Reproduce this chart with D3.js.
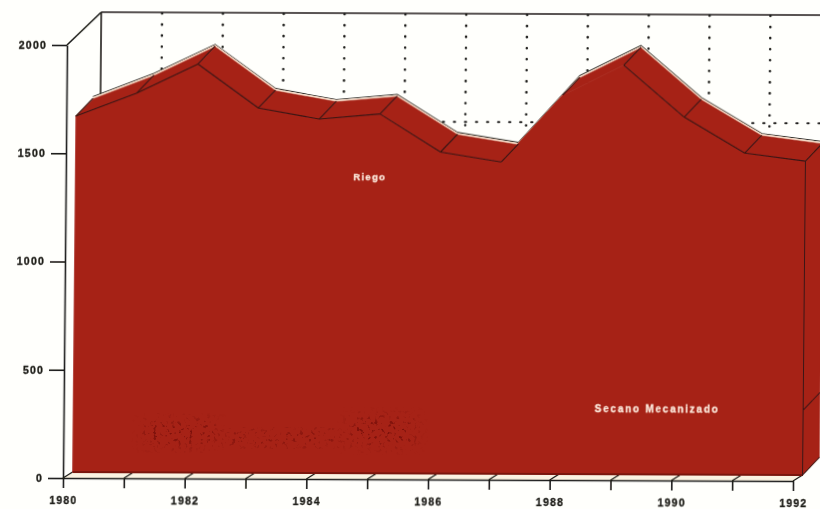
<!DOCTYPE html>
<html><head><meta charset="utf-8">
<script src="https://cdn.jsdelivr.net/npm/d3@7/dist/d3.min.js"></script>
<style>
html,body{margin:0;padding:0;background:#fffffc;overflow:hidden}
text{font-family:"Liberation Sans",Arial,sans-serif;font-weight:bold}
</style></head><body><svg id="c" width="820" height="509"></svg>
<script>
const years=[1980,1981,1982,1983,1984,1985,1986,1987,1988,1989,1990,1991,1992];
const riegoTotal=[1644,1752,1887,1685,1635,1660,1485,1440,1750,1890,1651,1486,1450];
const secanoLast=300;
const yTicks=[0,500,1000,1500,2000];
const xLabels=[1980,1982,1984,1986,1988,1990,1992];
const layerLabels=[{name:"Riego",year:1984.84,value:1352,size:9.5,ls:1.3},{name:"Secano Mecanizado",year:1989.6,value:285,size:10,ls:1.75}];
const RED="#a62317",DARK="#3a1512",INK="#1f1e1a",PALE="#f8dcc8",FLOOR="#fbf3e2";

const svg=d3.select("#c");
const defs=svg.append("defs");
defs.append("filter").attr("id","soft").append("feGaussianBlur").attr("stdDeviation",0.4);
const sp=defs.append("filter").attr("id","speck").attr("x","-20%").attr("y","-40%").attr("width","140%").attr("height","180%")
  .attr("color-interpolation-filters","sRGB");
sp.append("feGaussianBlur").attr("in","SourceAlpha").attr("stdDeviation",7).attr("result","fade");
sp.append("feTurbulence").attr("type","fractalNoise").attr("baseFrequency",0.28).attr("numOctaves",2).attr("seed",7);
sp.append("feColorMatrix").attr("values","0 0 0 0 0.47  0 0 0 0 0.06  0 0 0 0 0.04  5 5 0 0 -5.6").attr("result","dots");
sp.append("feGaussianBlur").attr("in","dots").attr("stdDeviation",0.5).attr("result","soft");
sp.append("feComposite").attr("in","soft").attr("in2","fade").attr("operator","in");
const g=svg.append("g").attr("filter","url(#soft)")
  .attr("transform","matrix(1,0.0041,-0.0092,1,63,478)");

const x=d3.scaleLinear().domain([1980,1992]).range([0,730]);
const y=d3.scaleLinear().domain([0,2000]).range([0,-433]);
const plane={front:[9.5,-6],back:[26.5,-24],wall:[34,-33]};
const px=(yr,o)=>x(yr)+o[0], py=(v,o)=>y(v)+o[1];
const line=o=>d3.line().x(d=>px(d[0],o)).y(d=>py(d[1],o));
const pts=years.map((yr,i)=>[yr,riegoTotal[i]]);

// back wall
const W=plane.wall;
const wall=g.append("g");
wall.append("line").attr("x1",0).attr("y1",y(2000)).attr("x2",px(1980,W)).attr("y2",py(2000,W)).attr("stroke",INK).attr("stroke-width",1.6);
wall.append("line").attr("x1",px(1980,W)).attr("y1",py(2000,W)).attr("x2",px(1993,W)).attr("y2",py(2000,W)).attr("stroke",INK).attr("stroke-width",1.6);
wall.append("line").attr("x1",px(1980,W)).attr("y1",py(2000,W)).attr("x2",px(1980,W)).attr("y2",py(0,W)).attr("stroke",INK).attr("stroke-width",1.6);
wall.selectAll("line.v").data(years.slice(1)).join("line").attr("class","v")
  .attr("x1",d=>px(d,W)).attr("x2",d=>px(d,W)).attr("y1",py(2000,W)+1).attr("y2",py(0,W))
  .attr("stroke",INK).attr("stroke-width",2.5).attr("stroke-linecap","round").attr("stroke-dasharray","0.1 10.95");
wall.append("line").attr("x1",px(1980,W)).attr("x2",px(1993,W)).attr("y1",py(1500,W)).attr("y2",py(1500,W))
  .attr("stroke",INK).attr("stroke-width",2.1).attr("stroke-linecap","round").attr("stroke-dasharray","1.2 9.85");

// floor
const F=plane.front;
g.append("path").attr("fill",FLOOR)
  .attr("d",`M0,0L${x(1992)},0L${px(1992,F)},${F[1]}L${px(1980,F)},${F[1]}Z`);

// y and x axes
const axL=g.append("g").call(d3.axisLeft(y).tickValues(yTicks).tickSize(15).tickSizeOuter(0).tickPadding(5).tickFormat(d3.format("d")));
const axB=g.append("g").call(d3.axisBottom(x).tickValues(years).tickSize(10).tickSizeOuter(0).tickPadding(9)
  .tickFormat(d=>xLabels.includes(d)?d3.format("d")(d):""));
[axL,axB].forEach(a=>{a.selectAll("path,line").attr("stroke",INK).attr("stroke-width",1.6);
  a.selectAll("text").attr("fill",INK).attr("stroke",INK).attr("stroke-width",0.35).attr("font-size",10.5).attr("letter-spacing",1.2);});
g.selectAll("line.fl").data(years).join("line").attr("class","fl")
  .attr("x1",d=>x(d)).attr("y1",0).attr("x2",d=>px(d,F)).attr("y2",F[1]).attr("stroke",INK).attr("stroke-width",1.3);

// solid body
const B=plane.back;
const backLine=line(B)(pts);
g.append("path").attr("d",d3.line().x(d=>px(d[0],B)).y(d=>py(d[1],B)-1.6)(pts)).attr("fill","none").attr("stroke",INK).attr("stroke-width",1.1);
g.append("path").attr("d",backLine).attr("fill","none").attr("stroke",PALE).attr("stroke-width",2.4);
g.selectAll("path.top").data(d3.pairs(pts)).join("path").attr("class","top").attr("fill",RED).attr("stroke",RED).attr("stroke-width",0.6)
  .attr("d",([a,b])=>`M${px(a[0],F)},${py(a[1],F)}L${px(b[0],F)},${py(b[1],F)}L${px(b[0],B)},${py(b[1],B)+0.8}L${px(a[0],B)},${py(a[1],B)+0.8}Z`);
const last=pts[pts.length-1];
g.append("path").attr("fill",RED)
  .attr("d",`M${px(1992,F)},${F[1]}L${px(1992,B)},${B[1]}L${px(1992,B)},${py(last[1],B)}L${px(1992,F)},${py(last[1],F)}Z`);
g.append("path").attr("fill",RED).attr("stroke",RED).attr("stroke-width",0.6).attr("d",d3.area().x(d=>px(d[0],F)).y0(F[1]).y1(d=>py(d[1],F))(pts));

// scan speckle, procedural texture only
svg.append("g").attr("pointer-events","none").selectAll("rect")
  .data([[145,422,70,22],[225,432,115,12],[350,418,65,26]]).join("rect")
  .attr("x",d=>d[0]).attr("y",d=>d[1]).attr("width",d=>d[2]).attr("height",d=>d[3])
  .attr("fill","#000").attr("filter","url(#speck)");

// edges
g.selectAll("path.edge").data(d3.pairs(pts).filter(([a,b])=>(b[1]-a[1])<138)).join("path").attr("class","edge")
  .attr("fill","none").attr("stroke",DARK).attr("stroke-width",1.1)
  .attr("d",([a,b])=>`M${px(a[0],F)},${py(a[1],F)}L${px(b[0],F)},${py(b[1],F)}`);
g.selectAll("line.dep").data(pts).join("line").attr("class","dep")
  .attr("x1",d=>px(d[0],F)).attr("y1",d=>py(d[1],F)).attr("x2",d=>px(d[0],B)).attr("y2",d=>py(d[1],B))
  .attr("stroke",DARK).attr("stroke-width",1.1);
g.append("line").attr("x1",px(1980,F)).attr("x2",px(1992,F)).attr("y1",F[1]).attr("y2",F[1]).attr("stroke","#7a120c").attr("stroke-width",2);
g.append("path").attr("fill","none").attr("stroke",DARK).attr("stroke-width",1)
  .attr("d",`M${px(1992,B)},${B[1]}L${px(1992,F)},${F[1]}L${px(1992,F)},${py(last[1],F)}M${px(1992,F)},${py(secanoLast,F)}L${px(1992,B)},${py(secanoLast,B)}`);

// labels
g.selectAll("text.lay").data(layerLabels).join("text").attr("class","lay")
  .attr("x",d=>px(d.year,F)).attr("y",d=>py(d.value,F)).attr("text-anchor","middle")
  .attr("fill","#fdeadd").attr("stroke","#fdeadd").attr("stroke-width",0.3).attr("font-size",d=>d.size).attr("letter-spacing",d=>d.ls).text(d=>d.name);
</script></body></html>
